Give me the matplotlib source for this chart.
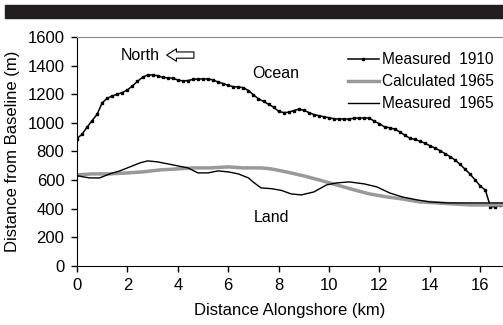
import matplotlib.pyplot as plt
from matplotlib.patches import Rectangle

plt.rcParams['font.family'] = ['Liberation Sans', 'DejaVu Sans']

# measured 1910 shoreline, every 0.2 km
x_1910 = [i * 0.2 for i in range(85)]
y_1910 = [890, 920, 970, 1015, 1060, 1140, 1172, 1188, 1200, 1212,
          1230, 1258, 1290, 1318, 1335, 1335, 1330, 1318, 1314, 1312,
          1300, 1293, 1296, 1304, 1307, 1307, 1307, 1300, 1285, 1275,
          1262, 1253, 1251, 1246, 1226, 1196, 1168, 1150, 1130, 1110,
          1080, 1072, 1074, 1086, 1096, 1088, 1072, 1058, 1050, 1042,
          1036, 1028, 1027, 1027, 1027, 1033, 1034, 1034, 1034, 1010,
          994, 972, 966, 956, 938, 914, 893, 884, 872, 858,
          840, 824, 806, 785, 764, 740, 710, 675, 640, 600,
          558, 530, 415, 412, 425]

x_calc = [0, 0.6, 1.3, 2.0, 2.6, 3.3, 4.0, 4.6, 5.3, 6.0, 6.6, 7.3, 7.7, 8.3,
          9.0, 9.6, 10.3, 11.0, 11.6, 12.3, 12.9, 13.6, 14.3, 14.9, 15.6, 16.3, 16.9]
y_calc = [636, 643, 643, 650, 657, 671, 678, 685, 685, 692, 685, 685, 678, 657,
          629, 601, 566, 531, 503, 482, 468, 447, 440, 433, 426, 426, 426]

x_1965 = [0, 0.5, 0.9, 1.3, 1.7, 2.1, 2.5, 2.8, 3.2, 3.6, 4.0, 4.4, 4.8, 5.2,
          5.6, 6.0, 6.4, 6.8, 7.0, 7.3, 7.7, 8.1, 8.5, 8.9, 9.4, 9.9, 10.3,
          10.8, 11.4, 11.9, 12.4, 12.9, 13.5, 14.0, 14.7, 15.3, 16.1, 16.9]
y_1965 = [630, 615, 615, 643, 664, 692, 720, 734, 727, 713, 699, 685, 650, 650,
          664, 657, 643, 615, 585, 545, 540, 528, 503, 496, 517, 566, 580,
          587, 573, 552, 510, 482, 461, 447, 440, 440, 440, 440]

fig = plt.figure(figsize=(5.03, 3.25), dpi=100)
fig.patches.append(Rectangle((0.01, 0.945), 0.99, 0.04, transform=fig.transFigure,
                             color='#231f20', zorder=0))
ax = fig.add_axes([0.153, 0.182, 0.847, 0.704])

ax.plot(x_1910, y_1910, color='black', lw=1.1, marker='s', ms=1.6,
        label='Measured  1910')
ax.plot(x_calc, y_calc, color='#999999', lw=2.5, label='Calculated 1965')
ax.plot(x_1965, y_1965, color='black', lw=1.0, label='Measured  1965')

ax.set_xlim(0, 16.9)
ax.set_ylim(0, 1600)
ax.set_xticks(range(0, 17, 2))
ax.set_yticks(range(0, 1601, 200))
ax.tick_params(labelsize=12, length=4, width=1, pad=5)
ax.set_xlabel('Distance Alongshore (km)', fontsize=12, labelpad=7)
ax.set_ylabel('Distance from Baseline (m)', fontsize=12, labelpad=5)

ax.spines['right'].set_visible(False)
ax.spines['top'].set_color('#888888')
ax.spines['top'].set_linewidth(0.8)

ax.text(2.5, 1474, 'North', fontsize=11.5, ha='center', va='center')
ax.annotate('', xy=(3.45, 1474), xytext=(4.75, 1474),
            arrowprops=dict(arrowstyle='simple,head_width=0.9,head_length=0.7,tail_width=0.45',
                            fc='white', ec='black', lw=0.8))
ax.text(7.9, 1345, 'Ocean', fontsize=11.5, ha='center', va='center')
ax.text(7.7, 340, 'Land', fontsize=11.5, ha='center', va='center')

ax.legend(loc='upper right', bbox_to_anchor=(1.0, 0.975), frameon=False,
          fontsize=11.2, handlelength=2.0, handletextpad=0.2, labelspacing=0.45,
          borderaxespad=0.2)

fig.savefig('out.png', dpi=100)
